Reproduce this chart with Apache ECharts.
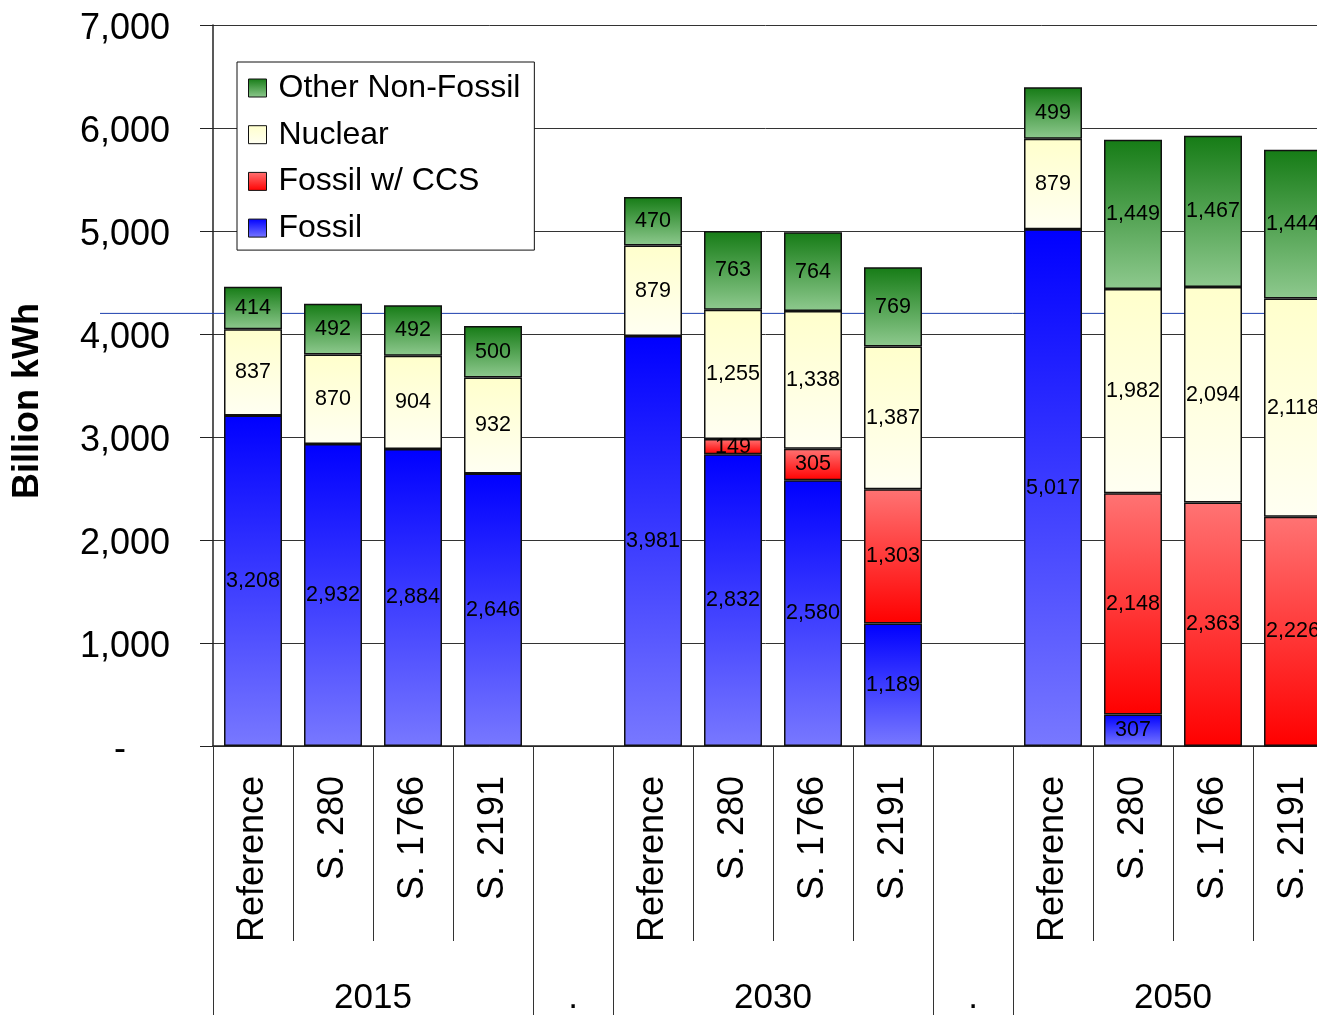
<!DOCTYPE html>
<html>
<head>
<meta charset="utf-8">
<script src="https://cdn.jsdelivr.net/npm/echarts@6/dist/echarts.min.js"></script>
<style>
html,body{margin:0;padding:0;background:#fff;}
#c{width:1317px;height:1015px;}
</style>
</head>
<body>
<div id="c"></div>
<script>
// ---- data ----
const categories = ['Reference','S. 280','S. 1766','S. 2191','',
                    'Reference','S. 280','S. 1766','S. 2191','',
                    'Reference','S. 280','S. 1766','S. 2191'];
const yearLabels = ['2015','.','2030','.','2050'];
const yearLabelPositions = [2, 4.5, 7, 9.5, 12];
const groupBoundaries = [0, 4, 5, 9, 10, 14];
const fossil      = [3208, 2932, 2884, 2646, null, 3981, 2832, 2580, 1189, null, 5017, 307, 0, 0];
const fossilCCS   = [0, 0, 0, 0, null, 0, 149, 305, 1303, null, 0, 2148, 2363, 2226];
const nuclear     = [837, 870, 904, 932, null, 879, 1255, 1338, 1387, null, 879, 1982, 2094, 2118];
const otherNonFossil = [414, 492, 492, 500, null, 470, 763, 764, 769, null, 499, 1449, 1467, 1444];
const referenceLineValue = 4200;

const FONT = "'Liberation Sans', Arial, sans-serif";
function grad(top, bottom){
  return new echarts.graphic.LinearGradient(0,0,0,1,[{offset:0,color:top},{offset:1,color:bottom}]);
}
const fmt = v => (v === null || v === undefined || v === 0) ? '' : Number(v).toLocaleString('en-US');

function mkSeries(name, data, color){
  return {
    name, type:'bar', stack:'total', data, barWidth:58,
    itemStyle:{color, borderColor:'#111', borderWidth:1.5},
    label:{show:true, position:'inside', color:'#000', fontSize:21.5, fontFamily:FONT,
           formatter:p => fmt(p.value)},
    emphasis:{disabled:true}
  };
}

const chart = echarts.init(document.getElementById('c'), null, {renderer:'canvas'});
const option = {
  animation:false,
  backgroundColor:'#fff',
  textStyle:{fontFamily:FONT},
  grid:{left:213, top:25, width:1120, height:721, containLabel:false, outerBoundsMode:'none'},
  legend:{
    orient:'vertical', left:237, top:62, icon:'rect',
    data:['Other Non-Fossil','Nuclear','Fossil w/ CCS','Fossil'],
    backgroundColor:'#fff', borderColor:'#111', borderWidth:1,
    padding:[8,14,4,11], itemGap:10.7, itemWidth:18, itemHeight:18,
    itemStyle:{borderColor:'#111', borderWidth:1},
    textStyle:{fontSize:32, color:'#000', fontFamily:FONT, lineHeight:36, padding:[0,0,0,7]}
  },
  xAxis:[
    {
      type:'category', data:categories, position:'bottom',
      axisLine:{show:true, lineStyle:{color:'#222', width:1.5}},
      axisTick:{show:true, length:195, alignWithLabel:false, lineStyle:{color:'#333', width:1}},
      axisLabel:{rotate:90, fontSize:36, color:'#000', margin:30, interval:0, fontFamily:FONT},
      splitLine:{show:false}
    },
    {
      type:'value', min:0, max:14, position:'bottom', offset:0,
      axisLine:{show:false},
      splitLine:{show:false},
      axisTick:{show:true, customValues:groupBoundaries, length:270, lineStyle:{color:'#333', width:1}},
      axisLabel:{customValues:yearLabelPositions, fontSize:35, color:'#000', margin:235, fontFamily:FONT,
                 formatter:v => { const i = yearLabelPositions.indexOf(v); return i >= 0 ? yearLabels[i] : ''; }}
    }
  ],
  yAxis:{
    type:'value', min:0, max:7000, interval:1000,
    axisLine:{show:true, lineStyle:{color:'#222', width:1.5}},
    axisTick:{show:true, length:13, lineStyle:{color:'#222'}},
    splitLine:{show:true, lineStyle:{color:'#333', width:1}},
    axisLabel:{fontSize:36, color:'#000', margin:43, fontFamily:FONT, padding:[8,0,0,0],
      formatter:v => v === 0 ? '{d|-}' : Number(v).toLocaleString('en-US'),
      rich:{d:{fontSize:36, color:'#000', padding:[0,44,0,0], fontFamily:FONT}}}
  },
  series:[
    mkSeries('Fossil', fossil, grad('#0000ff','#7878ff')),
    mkSeries('Fossil w/ CCS', fossilCCS, grad('#ff7373','#ff0000')),
    mkSeries('Nuclear', nuclear, grad('#ffffcc','#fffff2')),
    mkSeries('Other Non-Fossil', otherNonFossil, grad('#167c16','#8ec98e'))
  ]
};
chart.setOption(option);

const yRef = chart.convertToPixel({yAxisIndex:0}, referenceLineValue);
chart.setOption({
  graphic:[
    {type:'line', z:1, silent:true, shape:{x1:100, y1:yRef, x2:1317, y2:yRef},
     style:{stroke:'#1c3fae', lineWidth:1}},
    {type:'text', x:28, y:401, rotation:Math.PI/2, silent:true,
     style:{text:'Billion kWh', fontSize:36, fontWeight:'bold', fill:'#000', fontFamily:FONT,
            align:'center', verticalAlign:'middle'}}
  ]
});
</script>
</body>
</html>
